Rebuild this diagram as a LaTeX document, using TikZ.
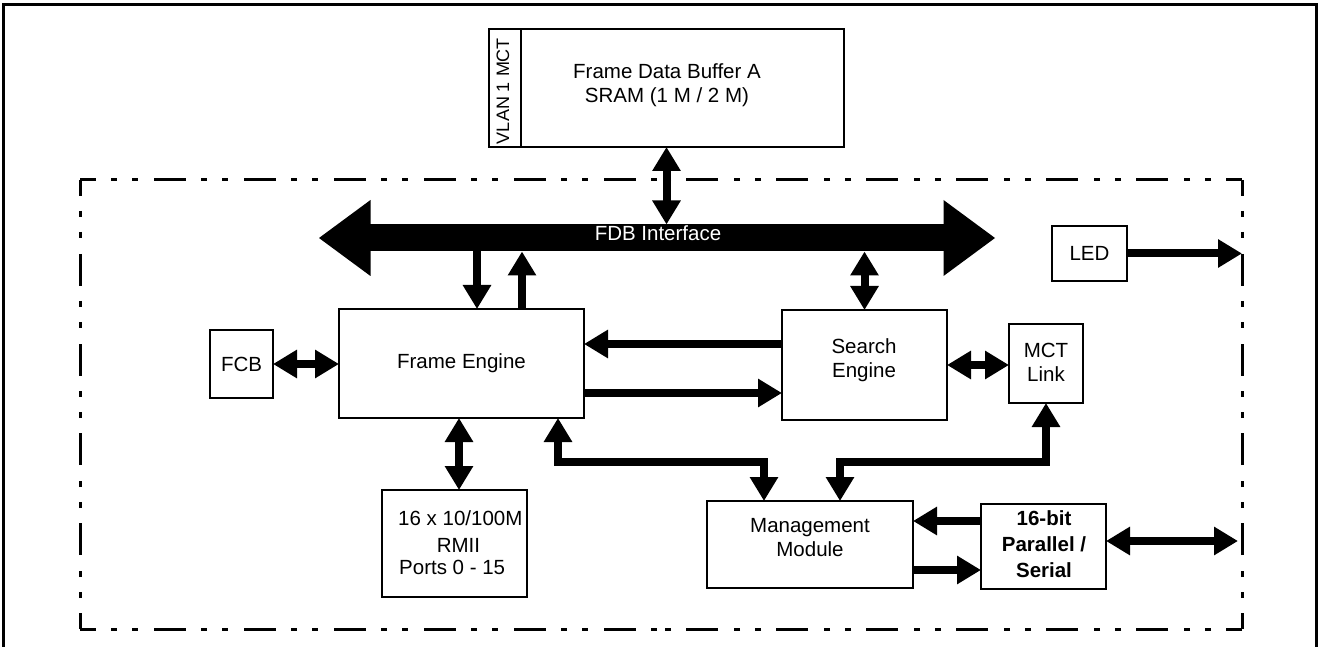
\documentclass[tikz,border=0pt]{standalone}
\usepackage{fontspec}
\setmainfont{Liberation Sans}
\usetikzlibrary{arrows.meta,calc}
\begin{document}
\begin{tikzpicture}[x=1pt,y=-1pt,
  box/.style={draw,line width=2pt,inner sep=0pt,outer sep=0pt},
  txt/.style={font=\fontsize{20.5pt}{24pt}\selectfont,align=center,inner sep=0pt},
  arr/.style={line width=8pt,-{Triangle[width=27pt,length=24pt]}},
  darr/.style={line width=8pt,{Triangle[width=27pt,length=24pt]}-{Triangle[width=27pt,length=24pt]}},
  bndry/.style={line width=3pt,dash pattern=on 32pt off 15pt on 6pt off 15pt on 6pt off 16pt,dash phase=16pt}
]
\useasboundingbox (0,0) rectangle (1318,647);
% outer border
\draw[line width=3pt,line join=miter] (3,670) -- (3,5) -- (1316,5) -- (1316,670);
% dash-dot boundary
\coordinate (b1) at (80,180);
\coordinate (b2) at (1242,180);
\coordinate (b3) at (1242,629);
\coordinate (b4) at (80,629);
\draw[bndry] (b1) -- ($(b1)!0.5!(b2)$);
\draw[bndry] (b2) -- ($(b1)!0.5!(b2)$);
\draw[bndry] (b2) -- ($(b2)!0.5!(b3)$);
\draw[bndry] (b3) -- ($(b2)!0.5!(b3)$);
\draw[bndry] (b3) -- ($(b3)!0.5!(b4)$);
\draw[bndry] (b4) -- ($(b3)!0.5!(b4)$);
\draw[bndry] (b4) -- ($(b4)!0.5!(b1)$);
\draw[bndry] (b1) -- ($(b4)!0.5!(b1)$);
% frame data buffer
\node[box,minimum width=355pt,minimum height=118pt] (fdb) at (666.5,88) {};
\node[box,minimum width=32pt,minimum height=118pt] (vlan) at (505,88) {};
\node[txt,rotate=90,font=\fontsize{18pt}{20pt}\selectfont] (vlantext) at (503,91) {VLAN 1 MCT};
\node[txt] (fdbtext) at (667,85) {Frame Data Buffer A\\SRAM (1 M / 2 M)};
% bus
\node[fill=black,minimum width=574pt,minimum height=27pt,inner sep=0pt,outer sep=0pt] (bus) at (657,238) {};
\fill ($(bus.west)+(0.5,-38)$) -- ($(bus.west)+(-51,0)$) -- ($(bus.west)+(0.5,38)$) -- cycle;
\fill ($(bus.east)+(-0.5,-38)$) -- ($(bus.east)+(51,0)$) -- ($(bus.east)+(-0.5,38)$) -- cycle;
\node[txt,text=white,anchor=base] (bustext) at (658,241) {FDB Interface};
% blocks
\node[box,txt,minimum width=245pt,minimum height=109pt] (fe) at (461.5,363.5) {Frame Engine};
\node[box,txt,minimum width=63pt,minimum height=68pt] (fcb) at (241.5,364) {FCB};
\node[box,minimum width=145pt,minimum height=107pt] (ports) at (454.5,543.5) {};
\node[txt,anchor=west] (p1) at (398,518) {16 x 10/100M};
\node[txt] (p2) at (458.5,545) {RMII};
\node[txt,anchor=west] (p3) at (399,567) {Ports 0 - 15};
\node[box,minimum width=165pt,minimum height=110pt] (se) at (864.5,365) {};
\node[txt] (setext) at (864,360) {Search\\Engine};
\node[box,minimum width=74pt,minimum height=79pt] (mct) at (1046,363.5) {};
\node[txt] (mcttext) at (1046,362) {MCT\\Link};
\node[box,txt,minimum width=75pt,minimum height=55pt] (led) at (1089.5,253.5) {LED};
\node[box,minimum width=206pt,minimum height=87pt] (mm) at (810,544.5) {};
\node[txt] (mmtext) at (810,538) {Management\\Module};
\node[box,minimum width=125pt,minimum height=85pt] (pp) at (1043.5,546.5) {};
\node[txt,font=\bfseries\fontsize{20.5pt}{26pt}\selectfont] (pptext) at (1044,544) {16-bit\\Parallel /\\Serial};
% connectors
\draw[darr] (fdb.south) -- (fdb.south |- bus.north);
\coordinate (fe1) at ($(fe.north)+(15.5,0)$);
\draw[arr] (bus.south -| fe1) -- (fe1);
\coordinate (fe2) at ($(fe.north)+(60.5,0)$);
\draw[arr] (fe2) -- (bus.south -| fe2);
\draw[darr] (bus.south -| se.north) -- (se.north);
\draw[darr] (fcb.east) -- (fcb.east -| fe.west);
\coordinate (fe5) at ($(fe.south)+(-2.5,0)$);
\draw[darr] (fe5) -- (fe5 |- ports.north);
\coordinate (se1) at ($(se.west)+(0,-21)$);
\draw[arr] (se1) -- (se1 -| fe.east);
\coordinate (fe3) at ($(fe.east)+(0,29.5)$);
\draw[arr] (fe3) -- (fe3 -| se.west);
\draw[darr] (se.east) -- (se.east -| mct.west);
\coordinate (ledend) at (1242,253.5);
\draw[arr] (led.east) -- (ledend);
\coordinate (fe4) at ($(fe.south east)+(-26,0)$);
\coordinate (mm1) at ($(mm.north)+(-46,0)$);
\draw[darr,line join=miter] (mm1) |- ($(fe4)+(0,44)$) -- (fe4);
\coordinate (mm2) at ($(mm.north)+(30,0)$);
\draw[darr,line join=miter] (mm2) |- ($(mct.south)+(0,59)$) -- (mct.south);
\coordinate (pp1) at ($(pp.west)+(0,-25.5)$);
\draw[arr] (pp1) -- (pp1 -| mm.east);
\coordinate (mm3) at ($(mm.east)+(0,25.5)$);
\draw[arr] (mm3) -- (mm3 -| pp.west);
\coordinate (pp2) at ($(pp.east)+(0,-5.5)$);
\coordinate (ppend) at (1238,541);
\draw[darr] (pp2) -- (ppend);
\end{tikzpicture}
\end{document}
